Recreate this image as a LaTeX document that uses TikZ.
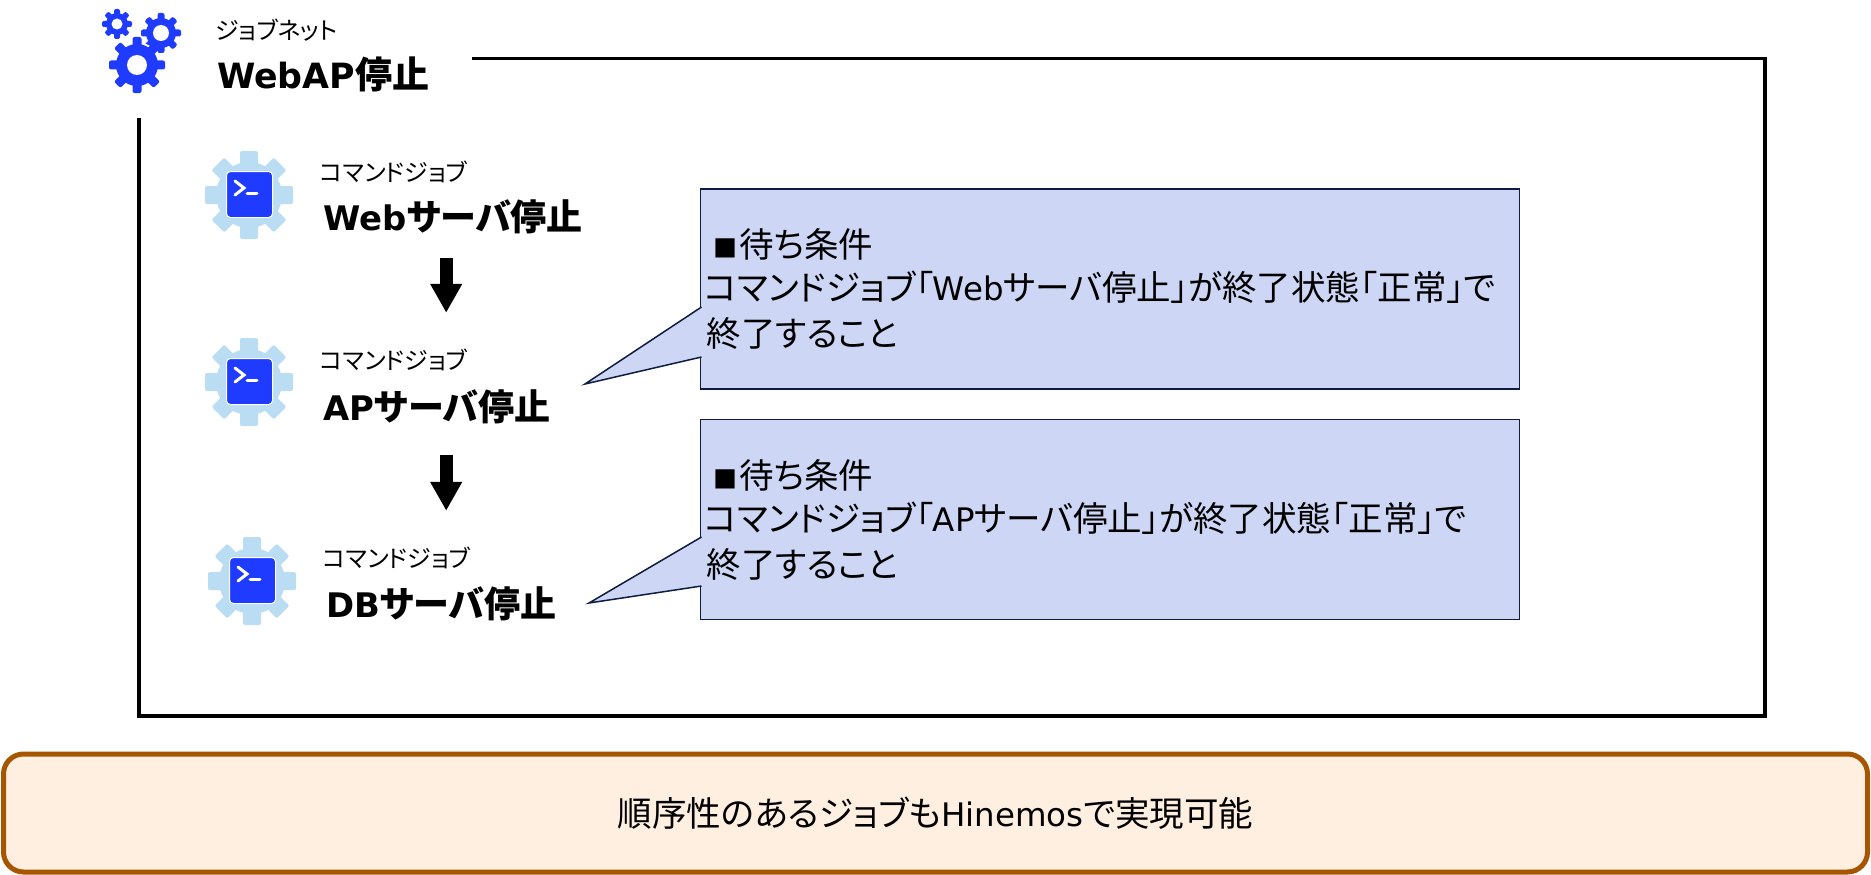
\documentclass[tikz,border=0pt]{standalone}
\usepackage{fontspec}
\setmainfont[RawFeature=+palt]{Noto Sans CJK JP}
\newfontfamily\latinpart[Scale=0.94]{DejaVu Sans}
\newcommand{\lat}[1]{{\latinpart #1}}
\newcommand{\waithead}{\hspace{9pt}{\fontsize{24}{46}\selectfont ■}\hspace{2pt}待ち条件\\[-3pt]}
\usetikzlibrary{arrows.meta}
\definecolor{gearblue}{HTML}{1F3BFF}
\definecolor{gearpale}{HTML}{BBDDF3}
\definecolor{waitfill}{HTML}{CDD7F5}
\definecolor{waitline}{HTML}{0F1C3F}
\definecolor{notefill}{HTML}{FEEFE0}
\definecolor{noteline}{HTML}{A65500}
\tikzstyle{netlabel} = [anchor=west, inner sep=0pt, font=\fontsize{24}{28}\selectfont]
\tikzstyle{netname} = [anchor=west, inner sep=0pt, font=\fontsize{37}{41}\selectfont\bfseries]
\tikzstyle{joblabel} = [anchor=west, inner sep=0pt, minimum height=30pt, font=\fontsize{24}{28}\selectfont]
\tikzstyle{jobname} = [anchor=west, inner sep=0pt, minimum height=40pt, text width=262pt, align=left, font=\fontsize{36}{40}\selectfont\bfseries]
\tikzstyle{jobicon} = [rectangle, rounded corners=4pt, minimum size=46pt, inner sep=0pt, draw=white, line width=1pt, fill=gearblue]
\tikzstyle{prompt} = [white, line width=3pt, line cap=round]
\tikzstyle{waitbox} = [rectangle, anchor=north west, minimum width=819pt, minimum height=200pt, inner xsep=4pt, inner ysep=0pt, outer sep=0pt, text width=811pt, align=left, draw=waitline, line width=1.5pt, fill=waitfill, font=\fontsize{34.5}{46}\selectfont]
\tikzstyle{waittail} = [draw=waitline, fill=waitfill, line width=1.5pt]
\tikzstyle{notebox} = [rectangle, rounded corners=20pt, minimum width=1864pt, minimum height=118pt, draw=noteline, line width=5pt, fill=notefill, font=\fontsize{34.5}{40}\selectfont]
\tikzstyle{stoparrow} = [line width=13pt, -{Triangle[width=30pt,length=29pt]}, shorten <=21pt, shorten >=32pt]
\newcommand{\gearshape}[7]{
    \foreach \a in {0,45,90,135}
        \fill [#6, rounded corners=2pt, rotate around={\a:(#1,#2)}] ({#1-#7/2},{#2-#3}) rectangle ({#1+#7/2},{#2+#3});
    \fill [#6] (#1,#2) circle (#4);
    \fill [white] (#1,#2) circle (#5);
}
\newcommand{\jobgear}[2]{
    \gearshape{#1}{#2}{44}{33}{0}{gearpale}{18}
}
\begin{document}
\begin{tikzpicture}[x=1pt,y=-1pt]
    \useasboundingbox (0,0) rectangle (1871,875);
    % job net frame
    \draw [line width=3.5pt, line join=miter] (472,58.5) -- (1765,58.5) -- (1765,716) -- (139,716) -- (139,118);
    % job net icon
    \gearshape{117}{24}{15}{11}{5.5}{gearblue}{6}
    \gearshape{161}{33}{20}{15}{8}{gearblue}{7}
    \fill [white] (137,65) circle (23);
    \gearshape{137}{65}{28}{21}{10}{gearblue}{9}
    \node (netlabel) [netlabel] at (215,30) {ジョブネット};
    \node (netname) [netname] at (217,74) {\lat{WebAP}停止};
    % command jobs
    \jobgear{249}{195}
    \node (webicon) [jobicon] at (249.5,194.5) {};
    \draw [prompt] (235,181) -- (244,188) -- (235,195);
    \draw [prompt] (247,193) -- (257,193);
    \node (weblabel) [joblabel] at (320,172) {コマンドジョブ};
    \node (webjob) [jobname] at (323,217) {\lat{Web}サーバ停止};
    \jobgear{249}{382}
    \node (apicon) [jobicon] at (249.5,381.5) {};
    \draw [prompt] (235,368) -- (244,375) -- (235,382);
    \draw [prompt] (247,380) -- (257,380);
    \node (aplabel) [joblabel] at (320,360) {コマンドジョブ};
    \node (apjob) [jobname] at (323,407) {\lat{AP}サーバ停止};
    \jobgear{252}{581}
    \node (dbicon) [jobicon] at (252.5,580.5) {};
    \draw [prompt] (238,567) -- (247,574) -- (238,581);
    \draw [prompt] (250,579) -- (260,579);
    \node (dblabel) [joblabel] at (323,558) {コマンドジョブ};
    \node (dbjob) [jobname] at (326,604) {\lat{DB}サーバ停止};
    \draw [stoparrow] ([xshift=-8pt]webjob.south) -- ([xshift=-8pt]aplabel.north -| webjob.south);
    \draw [stoparrow, shorten <=28pt] ([xshift=-8pt]apjob.south) -- ([xshift=-8pt]dblabel.north -| apjob.south);
    % wait conditions
    \node (waitweb) [waitbox] at (700.5,189) {\waithead コマンドジョブ「\lat{Web}サーバ停止」が終了状態「正常」で\\\hspace{2pt}終了すること};
    \coordinate (waitwebtip) at (585,384);
    \draw [waittail] (701.5,357) -- (waitwebtip) -- (701.5,307);
    \node (waitap) [waitbox] at (700.5,419.5) {\waithead コマンドジョブ「\lat{AP}サーバ停止」が終了状態「正常」で\\\hspace{2pt}終了すること};
    \coordinate (waitaptip) at (589,603);
    \draw [waittail] (701.5,586) -- (waitaptip) -- (701.5,537);
    % note
    \node (note) [notebox] at (935.5,813) {順序性のあるジョブも\lat{Hinemos}で実現可能};
\end{tikzpicture}
\end{document}
